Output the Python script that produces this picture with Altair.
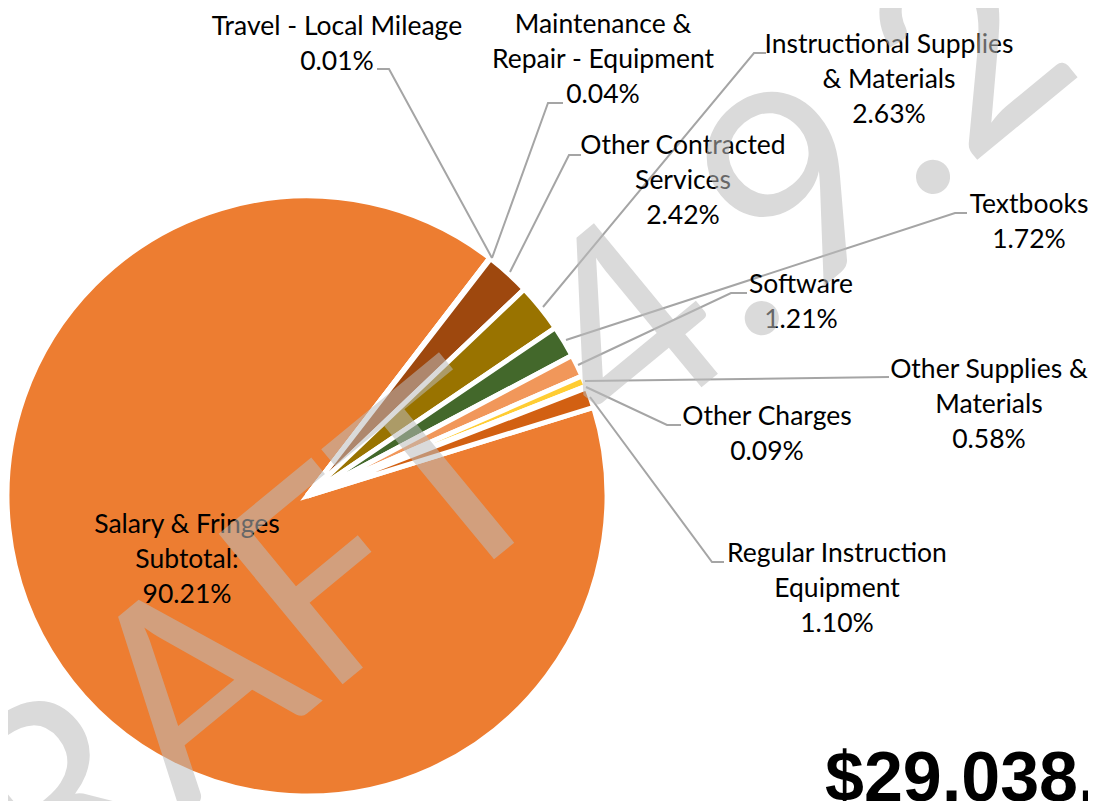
import math
import altair as alt
import pandas as pd

# ---------------- data ----------------
categories = [
    "Salary & Fringes Subtotal:",
    "Travel - Local Mileage",
    "Maintenance & Repair - Equipment",
    "Other Contracted Services",
    "Instructional Supplies & Materials",
    "Textbooks",
    "Software",
    "Other Supplies & Materials",
    "Other Charges",
    "Regular Instruction Equipment",
]
percents = [90.21, 0.01, 0.04, 2.42, 2.63, 1.72, 1.21, 0.58, 0.09, 1.10]
colors = ["#ED7D31", "#FFC000", "#70AD47", "#9E480E", "#997300",
          "#43682B", "#F1975A", "#FFCD33", "#8CC168", "#D26012"]
label_lines = [
    ["Salary & Fringes", "Subtotal:"],
    ["Travel - Local Mileage"],
    ["Maintenance &", "Repair - Equipment"],
    ["Other Contracted", "Services"],
    ["Instructional Supplies", "& Materials"],
    ["Textbooks"],
    ["Software"],
    ["Other Supplies &", "Materials"],
    ["Other Charges"],
    ["Regular Instruction", "Equipment"],
]
total_text = "$29,038,"
watermark_parts = ["DRAFT", "4.9.2"]

# ---------------- layout (page pixels) ----------------
OFF = 8  # page margin
W, H = 1080, 793
PIE_C = (307, 496)
PIE_R = 300
START_DEG = 72.8
FONT = "Lato"
FS = 26.5
LINE_H = 35

label_anchor = [(187, 533), (337, 35), (603, 33), (683, 154), (889, 53),
                (1029, 213), (801, 293), (989, 378), (767, 425), (837, 562)]
leaders = {
    1: [(377, 69), (389, 69), (492, 258)],
    2: [(563, 103), (548, 103), (492, 258)],
    3: [(581, 155), (569, 155), (510, 272)],
    4: [(766, 53), (754, 53), (543, 307)],
    5: [(967, 213), (955, 213), (566, 340)],
    6: [(747, 293), (731, 293), (578, 365)],
    7: [(889, 377), (585, 381)],
    8: [(681, 425), (667, 425), (586, 387)],
    9: [(724, 562), (712, 562), (590, 397)],
}

# ---------------- tables ----------------
pie_df = pd.DataFrame({"category": categories, "pct": percents,
                       "idx": list(range(len(categories)))})

rows = []
for i, (lines, (ax, ay)) in enumerate(zip(label_lines, label_anchor)):
    all_lines = lines + [f"{percents[i]:.2f}%"]
    for j, t in enumerate(all_lines):
        rows.append({"t": t, "px": ax - OFF, "py": ay - OFF + j * LINE_H})
lab_df = pd.DataFrame(rows)

lrows = []
for k, pts in leaders.items():
    for s, (px, py) in enumerate(pts):
        lrows.append({"key": k, "seq": s, "px": px - OFF, "py": py - OFF})
lead_df = pd.DataFrame(lrows)

# ---------------- marks ----------------
t0 = math.radians(START_DEG)
pie = alt.Chart(pie_df).mark_arc(stroke="white", strokeWidth=5).encode(
    theta=alt.Theta("pct:Q", stack=True,
                    scale=alt.Scale(range=[t0, t0 + 2 * math.pi])),
    color=alt.Color("category:N", legend=None,
                    scale=alt.Scale(domain=categories, range=colors)),
    order=alt.Order("idx:Q"),
    x=alt.value(PIE_C[0] - OFF),
    y=alt.value(PIE_C[1] - OFF),
    radius=alt.value(PIE_R),
)

lead = alt.Chart(lead_df).mark_line(color="#A5A5A5", strokeWidth=2).encode(
    x=alt.X("px:Q", scale=None),
    y=alt.Y("py:Q", scale=None),
    detail="key:N",
    order="seq:Q",
)

labels = alt.Chart(lab_df).mark_text(
    font=FONT, fontSize=FS, align="center", baseline="alphabetic", color="#000000"
).encode(
    x=alt.X("px:Q", scale=None),
    y=alt.Y("py:Q", scale=None),
    text="t:N",
)

tot_df = pd.DataFrame({"t": [total_text], "px": [825 - OFF], "py": [801 - OFF]})
total = alt.Chart(tot_df).mark_text(
    font="Liberation Sans", fontSize=70, fontWeight="bold",
    align="left", baseline="alphabetic", color="#000000"
).encode(
    x=alt.X("px:Q", scale=None), y=alt.Y("py:Q", scale=None), text="t:N"
)

wm_df = pd.DataFrame({
    "t": watermark_parts,
    "px": [566 - OFF, 857 - OFF],
    "py": [500 - OFF, 259 - OFF],
    "al": ["right", "center"],
})
wm_right = alt.Chart(wm_df[wm_df.al == "right"]).mark_text(
    font=FONT, fontSize=272, align="right", baseline="alphabetic",
    angle=320.5, color="#BCBCBC", opacity=0.55
).encode(x=alt.X("px:Q", scale=None), y=alt.Y("py:Q", scale=None), text="t:N")
wm_center = alt.Chart(wm_df[wm_df.al == "center"]).mark_text(
    font=FONT, fontSize=272, align="center", baseline="alphabetic",
    angle=320.5, color="#BCBCBC", opacity=0.55
).encode(x=alt.X("px:Q", scale=None), y=alt.Y("py:Q", scale=None), text="t:N")

chart = alt.layer(pie, lead, labels, total, wm_right, wm_center).properties(
    width=W, height=H, padding=0,
    autosize=alt.AutoSizeParams(type="none"),
    background="white",
).configure_view(stroke=None)

chart.save("out.html", embed_options={"renderer": "svg", "actions": False})
